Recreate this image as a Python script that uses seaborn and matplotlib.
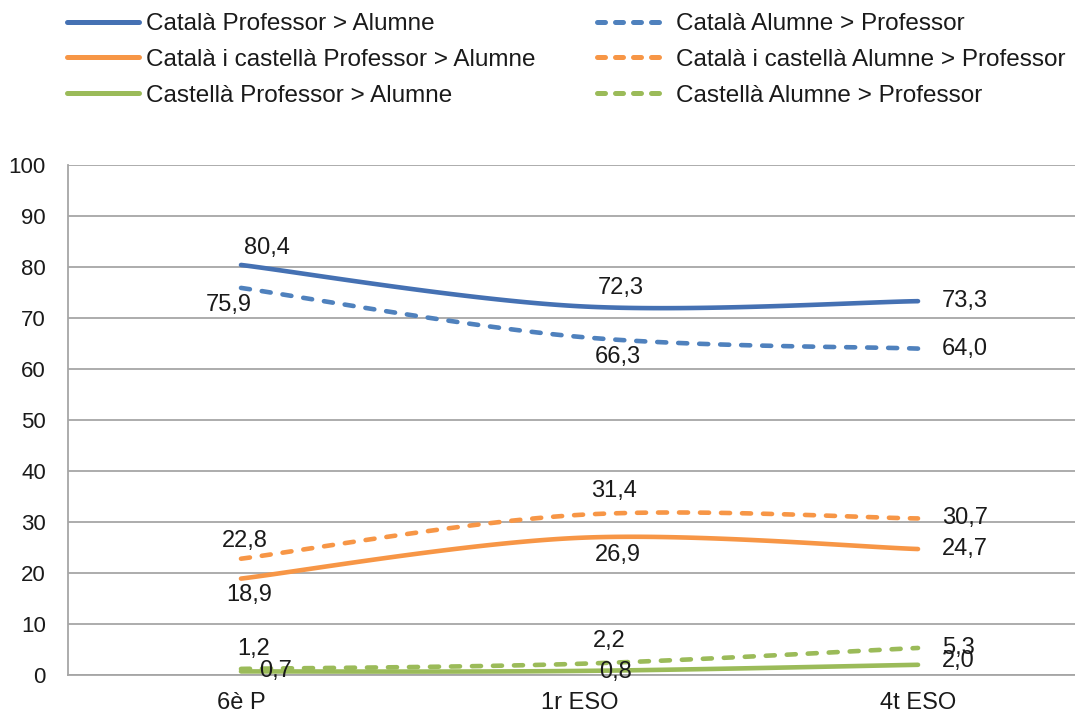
import numpy as np
import pandas as pd
import seaborn as sns
import matplotlib
matplotlib.use("Agg")
import matplotlib.pyplot as plt
from matplotlib.lines import Line2D

# Categories (school year)
cursos = ["6è P", "1r ESO", "4t ESO"]

# Percentages per series
catala_prof_alum = [80.4, 72.3, 73.3]
catala_alum_prof = [75.9, 66.3, 64.0]
cat_cast_prof_alum = [18.9, 26.9, 24.7]
cat_cast_alum_prof = [22.8, 31.4, 30.7]
castella_prof_alum = [0.7, 0.8, 2.0]
castella_alum_prof = [1.2, 2.2, 5.3]

noms = [
    "Català Professor > Alumne",
    "Català Alumne > Professor",
    "Català i castellà Professor > Alumne",
    "Català i castellà Alumne > Professor",
    "Castellà Professor > Alumne",
    "Castellà Alumne > Professor",
]
valors = [catala_prof_alum, catala_alum_prof, cat_cast_prof_alum,
          cat_cast_alum_prof, castella_prof_alum, castella_alum_prof]

# Style per series
colors = ["#4571b3", "#4f81bd", "#f79646", "#f79646", "#9bbb59", "#9bbb59"]
dashed = [False, True, False, True, False, True]

# Data-label offsets (pixels right, pixels up) for the first two points
# (centred); the last point's label is left-aligned beside it
label_offsets = [
    [(26, 17), (41, 18), (24, 0)],
    [(-12, -17), (38, -20), (24, 0)],
    [(8, -16), (38, -17), (24, 0)],
    [(4, 18), (35, 24), (24, 0)],
    [(35, 0), (36, -1), (24, 4)],
    [(13, 20), (30, 23), (24, 0)],
]


def smooth(y, n=60):
    """Catmull-Rom style Bezier smoothing between category points."""
    pts = np.column_stack([np.arange(len(y), dtype=float), np.asarray(y, float)])
    ext = np.vstack([pts[0], pts, pts[-1]])
    out = []
    t = np.linspace(0, 1, n)[:, None]
    for i in range(len(pts) - 1):
        p0, p1 = ext[i + 1], ext[i + 2]
        c1 = p0 + (ext[i + 2] - ext[i]) / 6.0
        c2 = p1 - (ext[i + 3] - ext[i + 1]) / 6.0
        seg = ((1 - t) ** 3) * p0 + 3 * ((1 - t) ** 2) * t * c1 \
            + 3 * (1 - t) * t ** 2 * c2 + t ** 3 * p1
        out.append(seg if i == 0 else seg[1:])
    s = np.vstack(out)
    return s[:, 0], s[:, 1]


sns.set_theme(style="white")
plt.rcParams["font.family"] = ["Liberation Sans", "DejaVu Sans"]
plt.rcParams["lines.scale_dashes"] = False

PX = 72 / 100  # points per pixel at dpi 100
text_color = "#1a1a1a"
grid_color = "#a6a6a6"

fig = plt.figure(figsize=(10.75, 7.13), dpi=100)
ax = fig.add_axes([68 / 1075, 38 / 713, 1 - 68 / 1075, 510 / 713])

dash_pattern = (0, (9 * PX, 12 * PX))

for nom, y, col, dsh in zip(noms, valors, colors, dashed):
    xs, ys = smooth(y)
    df = pd.DataFrame({"x": xs, "y": ys})
    sns.lineplot(data=df, x="x", y="y", ax=ax, color=col, sort=False,
                 linewidth=4.6 * PX, legend=False)
    line = ax.lines[-1]
    line.set_solid_capstyle("round")
    line.set_dash_capstyle("round")
    if dsh:
        line.set_linestyle(dash_pattern)

last = len(cursos) - 1
for y, offs in zip(valors, label_offsets):
    for i, (v, (dx, dy)) in enumerate(zip(y, offs)):
        ax.annotate(f"{v:.1f}".replace(".", ","), xy=(i, v),
                    xytext=(dx * PX, dy * PX), textcoords="offset points",
                    ha="left" if i == last else "center", va="center",
                    fontsize=17, color=text_color, zorder=5)

ax.set_xlim(-(241 - 68) / 338.5, 2 + (1075 - 918) / 338.5)
ax.set_ylim(0, 100)
ax.set_yticks(np.arange(0, 101, 10))
ax.set_xticks(range(len(cursos)))
ax.set_xticklabels(cursos)
ax.set_xlabel("")
ax.set_ylabel("")
ax.tick_params(axis="both", length=0, colors=text_color)
ax.tick_params(axis="y", pad=16, labelsize=16)
ax.tick_params(axis="x", pad=12, labelsize=17)
ax.yaxis.grid(True, color=grid_color, linewidth=1.3)
ax.set_axisbelow(True)
for side in ["top", "right"]:
    ax.spines[side].set_visible(False)
for side in ["left", "bottom"]:
    ax.spines[side].set_color(grid_color)
    ax.spines[side].set_linewidth(1.3)


# Legend: two columns placed above the plot
def handle(col, dsh):
    h = Line2D([], [], color=col, linewidth=5 * PX, solid_capstyle="round",
               dash_capstyle="round")
    if dsh:
        h.set_linestyle((0, (8 * PX, 10 * PX)))
    return h


leg_kw = dict(frameon=False, fontsize=17.5, handlelength=2.95, handletextpad=0.3,
              labelspacing=0.57, borderpad=0, borderaxespad=0, loc="upper left",
              labelcolor=text_color)
idx_left = [0, 2, 4]
idx_right = [1, 3, 5]
leg1 = fig.legend([handle(colors[i], dashed[i]) for i in idx_left],
                  [noms[i] for i in idx_left],
                  bbox_to_anchor=(67 / 1075, 1 - 13 / 713), **leg_kw)
leg2 = fig.legend([handle(colors[i], dashed[i]) for i in idx_right],
                  [noms[i] for i in idx_right],
                  bbox_to_anchor=(597 / 1075, 1 - 13 / 713), **leg_kw)

fig.savefig("out.png", dpi=100)
